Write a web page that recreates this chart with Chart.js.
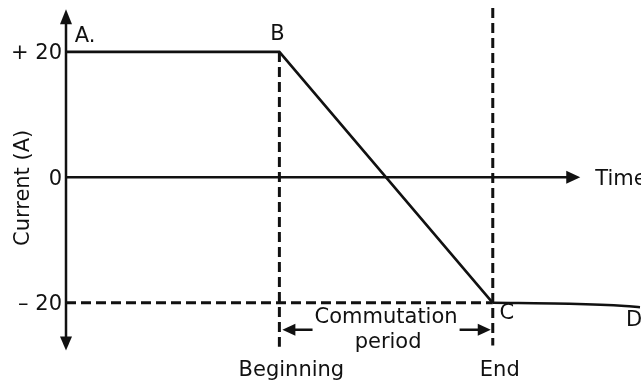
<!DOCTYPE html>
<html>
<head>
<meta charset="utf-8">
<script src="https://cdn.jsdelivr.net/npm/chart.js@4/dist/chart.umd.min.js"></script>
<style>
  html, body { margin: 0; padding: 0; background: #fff; }
  #wrap { width: 641px; height: 390px; position: relative; }
</style>
</head>
<body>
<div id="wrap"><canvas id="c"></canvas></div>
<script>
// ---- data ----
const timePoints = [0, 1, 2];            // A, B, C
const currentPoints = [20, 20, -20];
const tailTime = [2, 2.36, 2.62, 2.69];  // C ... D
const tailCurrent = [-20, -20.15, -20.5, -20.7];
const yTickValues = [20, 0, -20];
const yTickLabels = ['+ 20', '0', '\u2013 20'];
const eventTimes = [1, 2];
const eventLabels = ['Beginning', 'End'];
const pointNames = ['A.', 'B', 'C', 'D'];
const yAxisTitle = 'Current (A)';
const xAxisTitle = 'Time';
const periodLabel = ['Commutation', 'period'];

// axis extents (data units)
const yMin = -28, yMax = 27, xMin = 0, xMax = 2.69;
const yAxisTop = 26.8, yAxisBottom = -27.6, timeAxisEnd = 2.41;
const commutationLevel = -24.3;

const INK = '#111111';
const FONT = '"DejaVu Sans", Verdana, sans-serif';

function pts(xs, ys) { return xs.map((v, i) => ({ x: v, y: ys[i] })); }

function arrowHead(ctx, tx, ty, dx, dy, len, half) {
  const px = -dy, py = dx;
  ctx.beginPath();
  ctx.moveTo(tx, ty);
  ctx.lineTo(tx - dx * len + px * half, ty - dy * len + py * half);
  ctx.lineTo(tx - dx * len - px * half, ty - dy * len - py * half);
  ctx.closePath();
  ctx.fill();
}

const diagram = {
  id: 'diagram',
  beforeDatasetsDraw(chart) {
    const { ctx, scales: { x, y } } = chart;
    const x0 = x.getPixelForValue(0), y0 = y.getPixelForValue(0);
    ctx.save();
    ctx.strokeStyle = INK; ctx.fillStyle = INK; ctx.lineWidth = 2.5;
    const yt = y.getPixelForValue(yAxisTop), yb = y.getPixelForValue(yAxisBottom);
    ctx.beginPath(); ctx.moveTo(x0, yt + 10); ctx.lineTo(x0, yb - 10); ctx.stroke();
    arrowHead(ctx, x0, yt, 0, -1, 15, 6);
    arrowHead(ctx, x0, yb, 0, 1, 14, 6);
    const xt = x.getPixelForValue(timeAxisEnd);
    ctx.beginPath(); ctx.moveTo(x0, y0); ctx.lineTo(xt - 8, y0); ctx.stroke();
    arrowHead(ctx, xt, y0, 1, 0, 14, 6.5);
    ctx.restore();
  },
  afterDatasetsDraw(chart) {
    const { ctx, scales: { x, y } } = chart;
    const x0 = x.getPixelForValue(0);
    ctx.save();
    ctx.fillStyle = INK; ctx.strokeStyle = INK;
    ctx.font = '21px ' + FONT;
    // y tick labels
    ctx.textAlign = 'right'; ctx.textBaseline = 'middle';
    yTickValues.forEach((v, i) => ctx.fillText(yTickLabels[i], x0 - 4, y.getPixelForValue(v) + 2));
    // y title
    ctx.save();
    ctx.translate(24, (y.getPixelForValue(yAxisTop) + y.getPixelForValue(yAxisBottom)) / 2 + 8);
    ctx.rotate(-Math.PI / 2);
    ctx.textAlign = 'center';
    ctx.fillText(yAxisTitle, 0, 0);
    ctx.restore();
    // time label
    ctx.textAlign = 'left';
    ctx.fillText(xAxisTitle, x.getPixelForValue(timeAxisEnd) + 15, y.getPixelForValue(0) + 2);
    // point names
    const named = [
      [timePoints[0], currentPoints[0], 19, -15],
      [timePoints[1], currentPoints[1], -2, -17],
      [timePoints[2], currentPoints[2], 14, 11],
      [tailTime[tailTime.length - 1], tailCurrent[tailCurrent.length - 1], -6, 13]
    ];
    ctx.textAlign = 'center';
    named.forEach((n, i) => ctx.fillText(pointNames[i], x.getPixelForValue(n[0]) + n[2], y.getPixelForValue(n[1]) + n[3]));
    // event labels
    const evOff = [12, 7];
    eventTimes.forEach((t, i) => ctx.fillText(eventLabels[i], x.getPixelForValue(t) + evOff[i], 371));
    // commutation period
    const xb = x.getPixelForValue(eventTimes[0]), xe = x.getPixelForValue(eventTimes[1]);
    const cx = (xb + xe) / 2;
    ctx.fillText(periodLabel[0], cx, 318);
    ctx.fillText(periodLabel[1], cx + 2, 343);
    const w = ctx.measureText(periodLabel[0]).width;
    const ly = y.getPixelForValue(commutationLevel);
    ctx.lineWidth = 2.5;
    ctx.beginPath();
    ctx.moveTo(cx - w / 2 - 2, ly); ctx.lineTo(xb + 12, ly);
    ctx.moveTo(cx + w / 2 + 2, ly); ctx.lineTo(xe - 12, ly);
    ctx.stroke();
    arrowHead(ctx, xb + 3, ly, -1, 0, 13, 6);
    arrowHead(ctx, xe - 2, ly, 1, 0, 13, 6);
    ctx.restore();
  }
};

const solid = { borderColor: INK, borderWidth: 2.6, pointRadius: 0, showLine: true, fill: false, clip: false };
const dashed = { borderColor: INK, borderWidth: 3, borderDash: [10, 5], pointRadius: 0, showLine: true, fill: false, clip: false };

new Chart(document.getElementById('c'), {
  type: 'scatter',
  data: {
    datasets: [
      Object.assign({ label: 'current', data: pts(timePoints, currentPoints), tension: 0 }, solid),
      Object.assign({ label: 'tail', data: pts(tailTime, tailCurrent), cubicInterpolationMode: 'monotone' }, solid),
      Object.assign({ label: 'begin', data: [{ x: eventTimes[0], y: currentPoints[1] }, { x: eventTimes[0], y: -27 }] }, dashed),
      Object.assign({ label: 'end', data: [{ x: eventTimes[1], y: 27 }, { x: eventTimes[1], y: -26.8 }] }, dashed),
      Object.assign({ label: 'level', data: [{ x: 0, y: currentPoints[2] }, { x: eventTimes[1], y: currentPoints[2] }] }, dashed)
    ]
  },
  options: {
    responsive: true,
    maintainAspectRatio: false,
    animation: false,
    layout: { padding: { left: 66, right: 1, top: 8, bottom: 37 } },
    scales: {
      x: { type: 'linear', min: xMin, max: xMax, display: false },
      y: { type: 'linear', min: yMin, max: yMax, display: false }
    },
    plugins: { legend: { display: false }, tooltip: { enabled: false } }
  },
  plugins: [diagram]
});
</script>
</body>
</html>
